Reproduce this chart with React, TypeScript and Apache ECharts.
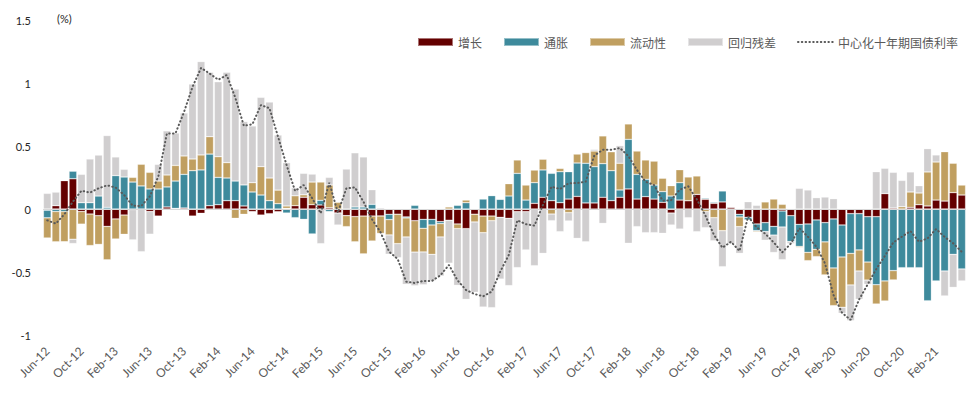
import React, { useEffect, useRef } from "react";
import * as echarts from "echarts";

const monthNames = ["Jan", "Feb", "Mar", "Apr", "May", "Jun", "Jul", "Aug", "Sep", "Oct", "Nov", "Dec"];
// Monthly categories: Jun-12 ... May-21 (108 months)
const categories: string[] = Array.from({ length: 108 }, (_, i) => {
  const k = 5 + i;
  return `${monthNames[k % 12]}-${12 + Math.floor(k / 12)}`;
});

const growth = [
  -0.01, 0.026, 0.225, 0.24, -0.02, -0.04, -0.053, -0.138, -0.079, -0.048, -0.005, 0,
  -0.02, -0.056, 0.016, 0.005, 0.008, -0.056, -0.034, 0.026, 0.034, 0.066, 0.066, 0.024,
  -0.02, -0.048, -0.037, -0.021, 0.005, 0.026, 0.093, 0.034, 0.032, 0.01, -0.032, -0.053,
  -0.06, -0.056, -0.056, -0.056, -0.042, -0.042, -0.063, -0.093, -0.082, -0.082, -0.1, -0.09,
  -0.119, -0.156, -0.042, -0.056, -0.056, -0.066, -0.074, -0.021, -0.021, 0.045, 0.093, 0.066,
  0.05, 0.079, 0.1, 0.048, 0.048, 0.093, 0.066, 0.093, 0.159, 0.079, 0.098, 0.079,
  0.053, -0.032, 0.071, 0.066, 0.116, 0.077, 0.045, 0.056, 0.013, -0.042, -0.066, -0.119,
  -0.108, -0.138, -0.016, -0.053, -0.122, -0.119, -0.087, -0.108, -0.079, -0.127, -0.037, -0.037,
  -0.061, -0.061, 0.122, 0.008, 0, 0.013, 0.034, 0.024, 0.071, 0.063, 0.13, 0.111,
];

const inflation = [
  -0.06, -0.02, -0.02, 0.06, 0.05, 0.05, 0.103, 0.013, 0.265, 0.254, 0.214, 0.183,
  0.159, 0.159, 0.159, 0.217, 0.267, 0.304, 0.31, 0.41, 0.217, 0.18, 0.156, 0.167,
  0.135, 0.111, 0.066, 0.042, -0.032, -0.069, -0.082, -0.198, 0.037, -0.02, 0, 0,
  0.016, 0.016, 0.037, 0, -0.042, 0, -0.008, 0.029, -0.071, -0.045, -0.016, 0,
  0.029, 0.05, 0, 0.079, 0.106, 0.077, 0.103, 0.283, 0.071, 0.164, 0.217, 0.217,
  0.246, 0.217, 0.265, 0.315, 0.288, 0.267, 0.238, 0.058, 0.394, 0.196, 0.138, 0.111,
  0.085, 0.103, 0.138, 0, 0, 0.008, 0.008, 0.087, 0.005, -0.021, -0.021, -0.053,
  -0.071, -0.069, -0.127, -0.206, -0.175, -0.225, -0.233, -0.153, -0.389, -0.254, -0.315, -0.288,
  -0.36, -0.54, -0.571, -0.489, -0.466, -0.466, -0.466, -0.728, -0.571, -0.492, -0.36, -0.476,
];

const liquidity = [
  -0.16, -0.24, -0.24, -0.24, -0.1, -0.25, -0.228, -0.265, -0.159, -0.153, 0.037, 0.172,
  0.132, 0.063, 0.095, 0.124, 0.146, 0.093, 0.119, 0.138, 0.164, 0.122, -0.074, -0.042,
  0.074, 0.225, 0.18, 0.108, 0.019, 0.079, 0.02, 0.18, 0.145, 0.18, 0.053, -0.087,
  -0.2, -0.3, -0.198, -0.138, -0.122, -0.233, -0.151, -0.249, -0.188, -0.233, -0.106, 0.016,
  -0.037, 0.021, -0.061, -0.132, -0.037, 0, 0.098, 0.106, 0.119, 0.1, 0.085, -0.04,
  0.026, -0.029, 0.071, 0.085, 0.124, 0.22, 0.151, 0.212, 0.122, 0.185, 0.153, 0.19,
  0.106, 0.082, 0.103, 0.188, 0.146, -0.021, -0.069, -0.172, 0, -0.077, -0.005, -0.008,
  0.056, 0.079, 0.037, 0, -0.008, -0.066, -0.058, -0.262, -0.299, -0.399, -0.251, -0.167,
  -0.143, -0.153, -0.159, -0.074, 0.018, 0.122, 0.093, 0.27, 0.302, 0.392, 0.233, 0.079,
];

const residual = [
  0.124, 0.108, 0, -0.034, 0.225, 0.347, 0.325, 0.57, 0.148, 0.061, -0.24, -0.339,
  -0.18, 0.132, 0.35, 0.257, 0.341, 0.595, 0.741, 0.511, 0.595, 0.717, 0.73, 0.503,
  0.45, 0.55, 0.603, 0.437, 0.344, 0.063, 0.17, 0.063, -0.275, 0.061, -0.095, 0.317,
  0.43, 0.397, 0.116, 0.01, -0.153, -0.111, -0.376, -0.267, -0.26, -0.21, -0.31, -0.34,
  -0.45, -0.561, -0.558, -0.59, -0.69, -0.49, -0.534, -0.444, -0.304, -0.45, -0.352, -0.053,
  -0.18, -0.066, -0.233, -0.26, 0.013, -0.114, 0, 0.14, -0.272, -0.14, -0.188, -0.188,
  -0.193, -0.095, -0.159, -0.069, -0.18, -0.127, -0.183, -0.286, -0.275, -0.212, 0.058, 0.029,
  -0.069, -0.138, -0.259, -0.016, 0.164, 0.151, 0.09, 0.095, 0.082, -0.048, -0.283, -0.225,
  -0.034, 0.296, 0.201, 0.283, 0.209, 0.159, 0.058, 0.185, 0.056, -0.198, -0.262, -0.095,
];

const rate10y = [
  -0.09, -0.116, -0.042, 0.058, 0.145, 0.13, 0.164, 0.188, 0.17, 0.11, 0.026, 0.024,
  0.1, 0.26, 0.6, 0.6, 0.77, 0.97, 1.12, 1.075, 1.026, 1.063, 0.884, 0.661,
  0.672, 0.825, 0.8, 0.574, 0.349, 0.143, 0.19, 0.085, -0.034, 0.209, -0.03, 0.164,
  0.172, 0.058, -0.082, -0.185, -0.339, -0.397, -0.577, -0.587, -0.571, -0.571, -0.526, -0.444,
  -0.566, -0.643, -0.675, -0.693, -0.656, -0.497, -0.365, -0.09, -0.12, -0.132, 0.032, 0.177,
  0.159, 0.204, 0.206, 0.217, 0.423, 0.47, 0.47, 0.484, 0.42, 0.31, 0.217, 0.19,
  0.066, 0.07, 0.153, 0.18, 0.077, -0.05, -0.204, -0.307, -0.26, -0.333, -0.06, -0.145,
  -0.196, -0.265, -0.344, -0.275, -0.153, -0.22, -0.3, -0.431, -0.683, -0.825, -0.88, -0.717,
  -0.598, -0.476, -0.373, -0.265, -0.22, -0.175, -0.26, -0.233, -0.159, -0.222, -0.272, -0.34,
];

const seriesNames = ["增长", "通胀", "流动性", "回归残差", "中心化十年期国债利率"];
const colors = ["#640000", "#3E8A9C", "#C09F60", "#D0CECF", "#595959"];

export default function App() {
  const ref = useRef<HTMLDivElement>(null);
  useEffect(() => {
    document.body.style.margin = "0";
    if (!ref.current) return;
    const chart = echarts.init(ref.current, null, { renderer: "svg" });
    const barData = [growth, inflation, liquidity, residual];
    const barSeries = barData.map((d, i) => ({
      name: seriesNames[i],
      type: "bar",
      stack: "total",
      data: d,
      barCategoryGap: "10%",
      itemStyle: {
        color: colors[i],
        borderColor: "rgba(255,255,255,0.45)",
        borderWidth: 0.6,
      },
      ...(i === 3
        ? {
            markLine: {
              silent: true,
              symbol: "none",
              label: { show: false },
              lineStyle: { color: "#d9d9d9", width: 1, type: "solid" },
              data: [{ yAxis: 0 }],
            },
          }
        : {}),
    }));
    chart.setOption({
      animation: false,
      grid: { left: 43, right: 7, top: 20, bottom: 64 },
      legend: {
        right: 10,
        top: 31,
        itemWidth: 35,
        itemHeight: 8,
        itemGap: 21,
        textStyle: { fontSize: 12, color: "#595959", fontFamily: "Noto Sans CJK SC" },
        data: [
          { name: "增长", icon: "rect" },
          { name: "通胀", icon: "rect" },
          { name: "流动性", icon: "rect" },
          { name: "回归残差", icon: "rect" },
          { name: "中心化十年期国债利率", itemStyle: { opacity: 0 } },
        ],
      },
      graphic: [
        {
          type: "text",
          left: 57,
          top: 13,
          style: { text: "(%)", fontSize: 11, fill: "#262626", fontFamily: "Lato" },
        },
      ],
      xAxis: {
        type: "category",
        data: categories,
        axisLine: { show: false },
        axisTick: { show: false },
        axisLabel: {
          interval: 3,
          rotate: 45,
          margin: 14,
          fontSize: 12,
          color: "#595959",
          fontFamily: "Lato",
        },
      },
      yAxis: {
        type: "value",
        min: -1,
        max: 1.5,
        interval: 0.5,
        axisLine: { show: false },
        axisTick: { show: false },
        splitLine: { show: false },
        axisLabel: {
          margin: 12,
          fontSize: 11,
          color: "#262626",
          fontFamily: "Lato",
          formatter: (v: number) => String(v),
        },
      },
      series: [
        ...barSeries,
        {
          name: seriesNames[4],
          type: "line",
          data: rate10y,
          symbol: "none",
          z: 10,
          lineStyle: { color: colors[4], width: 2, type: [0.5, 3.3], cap: "round" },
          itemStyle: { color: colors[4] },
        },
      ],
    });
    return () => chart.dispose();
  }, []);
  return <div ref={ref} style={{ width: 973, height: 399 }} />;
}
